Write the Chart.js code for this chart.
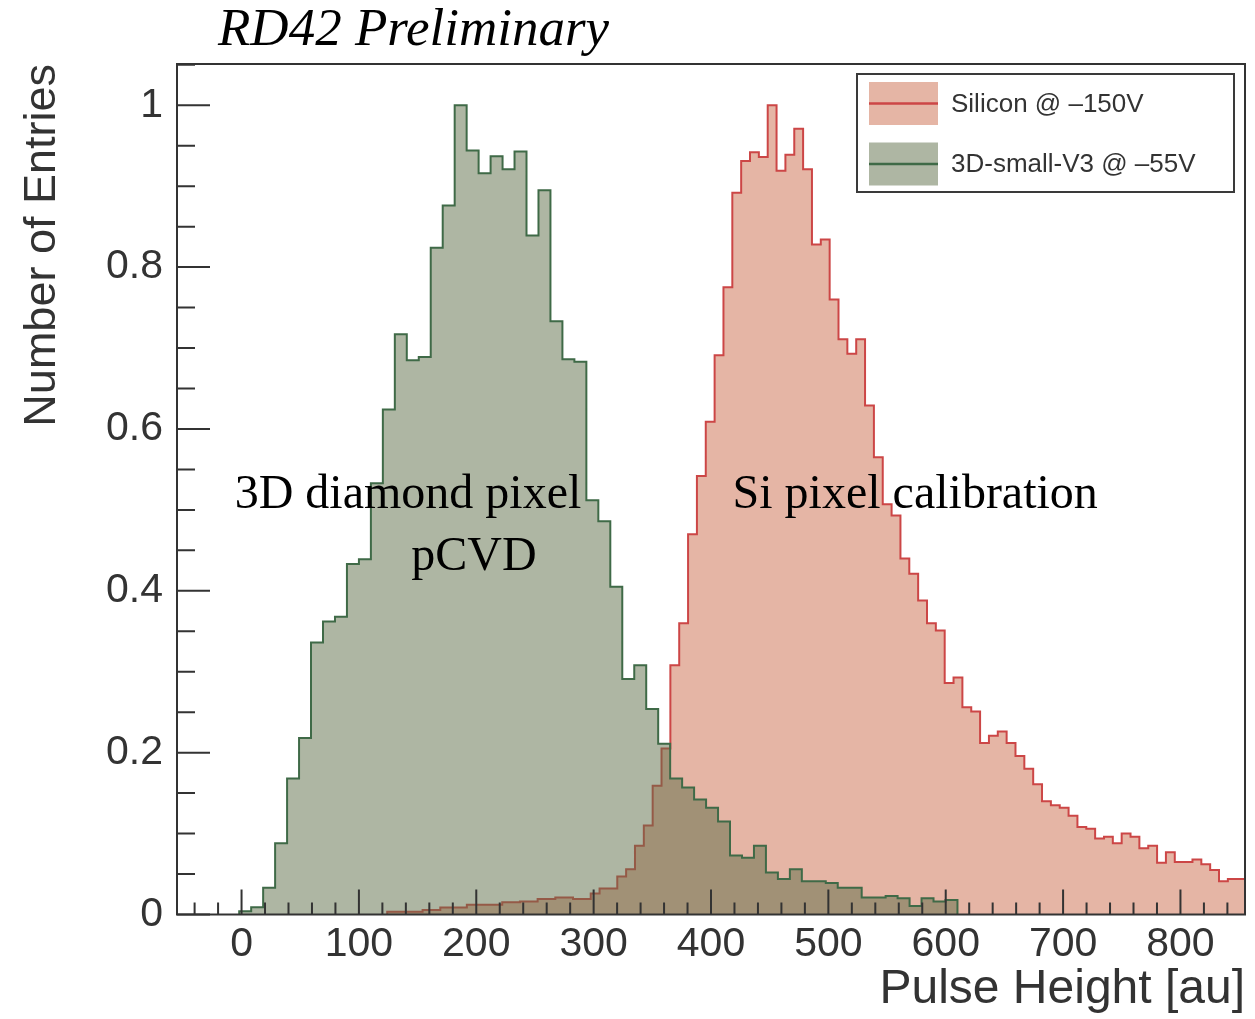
<!DOCTYPE html>
<html>
<head>
<meta charset="utf-8">
<title>RD42 Preliminary - pulse height</title>
<script src="https://cdn.jsdelivr.net/npm/chart.js@4.4.1/dist/chart.umd.min.js"></script>
<style>
  html, body { margin: 0; padding: 0; background: #fff; }
  #wrap { width: 1255px; height: 1019px; }
</style>
</head>
<body>
<div id="wrap"><canvas id="hist_chart" width="1255" height="1019"></canvas></div>
<script>
// binning of the two histograms (pulse height, au)
const greenStart = -2.0, greenWidth = 10.2;
const redStart = 124.1, redWidth = 7.54;

// 3D-small-V3 @ -55V, normalised entries per bin
const greenCounts = [
  0.004, 0.009, 0.033, 0.088, 0.168, 0.218, 0.336, 0.362, 0.368, 0.433,
  0.439, 0.533, 0.624, 0.717, 0.685, 0.689, 0.824, 0.876, 1.000, 0.944,
  0.916, 0.937, 0.921, 0.943, 0.839, 0.895, 0.733, 0.686, 0.683, 0.512,
  0.486, 0.405, 0.291, 0.308, 0.254, 0.211, 0.168, 0.157, 0.142, 0.132,
  0.115, 0.073, 0.070, 0.085, 0.052, 0.044, 0.056, 0.041, 0.041, 0.039,
  0.033, 0.033, 0.021, 0.021, 0.023, 0.020, 0.0105, 0.020, 0.016, 0.018
];

// Silicon @ -150V, normalised entries per bin
const redCounts = [
  0.0035, 0.0035, 0.0035, 0.0035, 0.0056, 0.0056, 0.0085, 0.0085, 0.0085, 0.012,
  0.012, 0.012, 0.012, 0.015, 0.015, 0.016, 0.016, 0.019, 0.019, 0.021,
  0.021, 0.019, 0.019, 0.026, 0.032, 0.032,
  0.047, 0.056, 0.085, 0.110, 0.159, 0.205, 0.308, 0.360, 0.470, 0.542,
  0.609, 0.691, 0.775, 0.892, 0.931, 0.942, 0.936, 1.000, 0.919, 0.939,
  0.971, 0.921, 0.828, 0.834, 0.760, 0.711, 0.693, 0.711, 0.629, 0.565,
  0.507, 0.493, 0.440, 0.421, 0.388, 0.360, 0.351, 0.286, 0.293, 0.256,
  0.251, 0.212, 0.221, 0.226, 0.212, 0.196, 0.180, 0.161, 0.140, 0.135,
  0.132, 0.122, 0.108, 0.106, 0.094, 0.096, 0.088, 0.100, 0.096, 0.082,
  0.085, 0.064, 0.077, 0.065, 0.065, 0.068, 0.062, 0.055, 0.041, 0.044,
  0.044
];

const xTicks = [0, 100, 200, 300, 400, 500, 600, 700, 800];
const yTicks = [0, 0.2, 0.4, 0.6, 0.8, 1];

const legendLabels = ['Silicon @ \u2013150V', '3D-small-V3 @ \u201355V'];
const noteTexts = ['3D diamond pixel', 'pCVD', 'Si pixel calibration'];
const titleText = 'RD42 Preliminary';

const redFill = '#e5b5a5', redLine = '#cc4646';
const greenFill = 'rgba(93, 109, 71, 0.5)', greenLine = '#3f6a47';
const axisColor = '#333';

// step outline: up from zero at the first edge, down to zero at the last
function histPoints(start, width, counts) {
  let pts = [{x: start, y: 0}];
  counts.forEach((c, i) => pts.push({x: start + i * width, y: c}));
  pts.push({x: start + counts.length * width, y: 0});
  return pts;
}

// ROOT style frame, inward ticks, legend box and labels
const rootStyle = {
  id: 'rootStyle',
  afterDatasetsDraw(chart) {
    const {ctx, chartArea: a, scales: {x, y}} = chart;
    ctx.save();

    // text notes inside the plot
    ctx.fillStyle = '#000';
    ctx.font = '48px "Liberation Serif", "Times New Roman", serif';
    ctx.textAlign = 'center';
    ctx.textBaseline = 'alphabetic';
    ctx.fillText(noteTexts[0], x.getPixelForValue(141.8), y.getPixelForValue(0.5026));
    ctx.fillText(noteTexts[1], x.getPixelForValue(198), y.getPixelForValue(0.426));
    ctx.fillText(noteTexts[2], x.getPixelForValue(574), y.getPixelForValue(0.5026));

    // ticks pointing into the frame
    ctx.strokeStyle = axisColor;
    ctx.lineWidth = 2;
    ctx.beginPath();
    for (let v = -40; v <= 850; v += 20) {
      const px = x.getPixelForValue(v);
      const len = v % 100 === 0 ? 25 : 12;
      ctx.moveTo(px, a.bottom);
      ctx.lineTo(px, a.bottom - len);
    }
    for (let i = 0; i <= 21; i++) {
      const py = y.getPixelForValue(i * 0.05);
      const len = i % 4 === 0 ? 33 : 18;
      ctx.moveTo(a.left, py);
      ctx.lineTo(a.left + len, py);
    }
    ctx.stroke();
    ctx.strokeRect(a.left, a.top, a.right - a.left, a.bottom - a.top);

    // legend
    const lx = a.right - 388, ly = a.top + 10, lw = 377, lh = 118;
    ctx.fillStyle = '#fff';
    ctx.fillRect(lx, ly, lw, lh);
    ctx.strokeStyle = '#3a3a3a';
    ctx.strokeRect(lx, ly, lw, lh);
    const rows = [
      {fill: redFill, line: redLine, cy: ly + 29.5},
      {fill: greenFill, line: greenLine, cy: ly + 90}
    ];
    ctx.font = '26px "Liberation Sans", Arial, sans-serif';
    ctx.textAlign = 'left';
    ctx.textBaseline = 'middle';
    rows.forEach((r, i) => {
      ctx.fillStyle = r.fill;
      ctx.fillRect(lx + 12, r.cy - 21.5, 69, 43);
      ctx.strokeStyle = r.line;
      ctx.lineWidth = 2.5;
      ctx.beginPath();
      ctx.moveTo(lx + 12, r.cy);
      ctx.lineTo(lx + 81, r.cy);
      ctx.stroke();
      ctx.fillStyle = '#333';
      ctx.fillText(legendLabels[i], lx + 94, r.cy + 1);
    });

    // title above the frame
    ctx.fillStyle = '#000';
    ctx.font = 'italic 53px "Liberation Serif", "Times New Roman", serif';
    ctx.textAlign = 'left';
    ctx.textBaseline = 'alphabetic';
    ctx.fillText(titleText, 218, 45);

    ctx.restore();
  }
};

const ctx = document.getElementById('hist_chart').getContext('2d');
const hist_chart = new Chart(ctx, {
  type: 'line',
  data: {
    datasets: [
      {
        label: legendLabels[1],
        data: histPoints(greenStart, greenWidth, greenCounts),
        stepped: true,
        fill: 'origin',
        backgroundColor: greenFill,
        borderColor: greenLine,
        borderWidth: 2,
        pointRadius: 0
      },
      {
        label: legendLabels[0],
        data: histPoints(redStart, redWidth, redCounts),
        stepped: true,
        fill: 'origin',
        backgroundColor: redFill,
        borderColor: redLine,
        borderWidth: 2,
        pointRadius: 0
      }
    ]
  },
  options: {
    responsive: false,
    devicePixelRatio: 1,
    animation: false,
    layout: { padding: { top: 64, right: 10, left: 0, bottom: 0 } },
    plugins: {
      legend: { display: false },
      tooltip: { enabled: false }
    },
    scales: {
      x: {
        type: 'linear',
        min: -55,
        max: 855,
        grid: { display: false },
        border: { display: false },
        afterBuildTicks: s => { s.ticks = xTicks.map(v => ({value: v})); },
        afterFit: s => { s.height = 104.5; },
        ticks: {
          color: axisColor,
          padding: 2,
          maxRotation: 0,
          autoSkip: false,
          font: { family: '"Liberation Sans", Arial, sans-serif', size: 41, lineHeight: 1 }
        },
        title: {
          display: true,
          text: 'Pulse Height [au]',
          align: 'end',
          color: axisColor,
          padding: { top: 0, bottom: 5 },
          font: { family: '"Liberation Sans", Arial, sans-serif', size: 48, lineHeight: 1 }
        }
      },
      y: {
        min: 0,
        max: 1.051,
        grid: { display: false },
        border: { display: false },
        afterBuildTicks: s => { s.ticks = yTicks.map(v => ({value: v})); },
        afterFit: s => { s.width = 177; },
        ticks: {
          color: axisColor,
          padding: 6,
          callback: v => String(+v.toFixed(2)),
          font: { family: '"Liberation Sans", Arial, sans-serif', size: 41, lineHeight: 1 }
        },
        title: {
          display: true,
          text: 'Number of Entries',
          align: 'end',
          color: axisColor,
          padding: { top: 20, bottom: 0 },
          font: { family: '"Liberation Sans", Arial, sans-serif', size: 45, lineHeight: 1 }
        }
      }
    }
  },
  plugins: [rootStyle]
});
</script>
</body>
</html>
